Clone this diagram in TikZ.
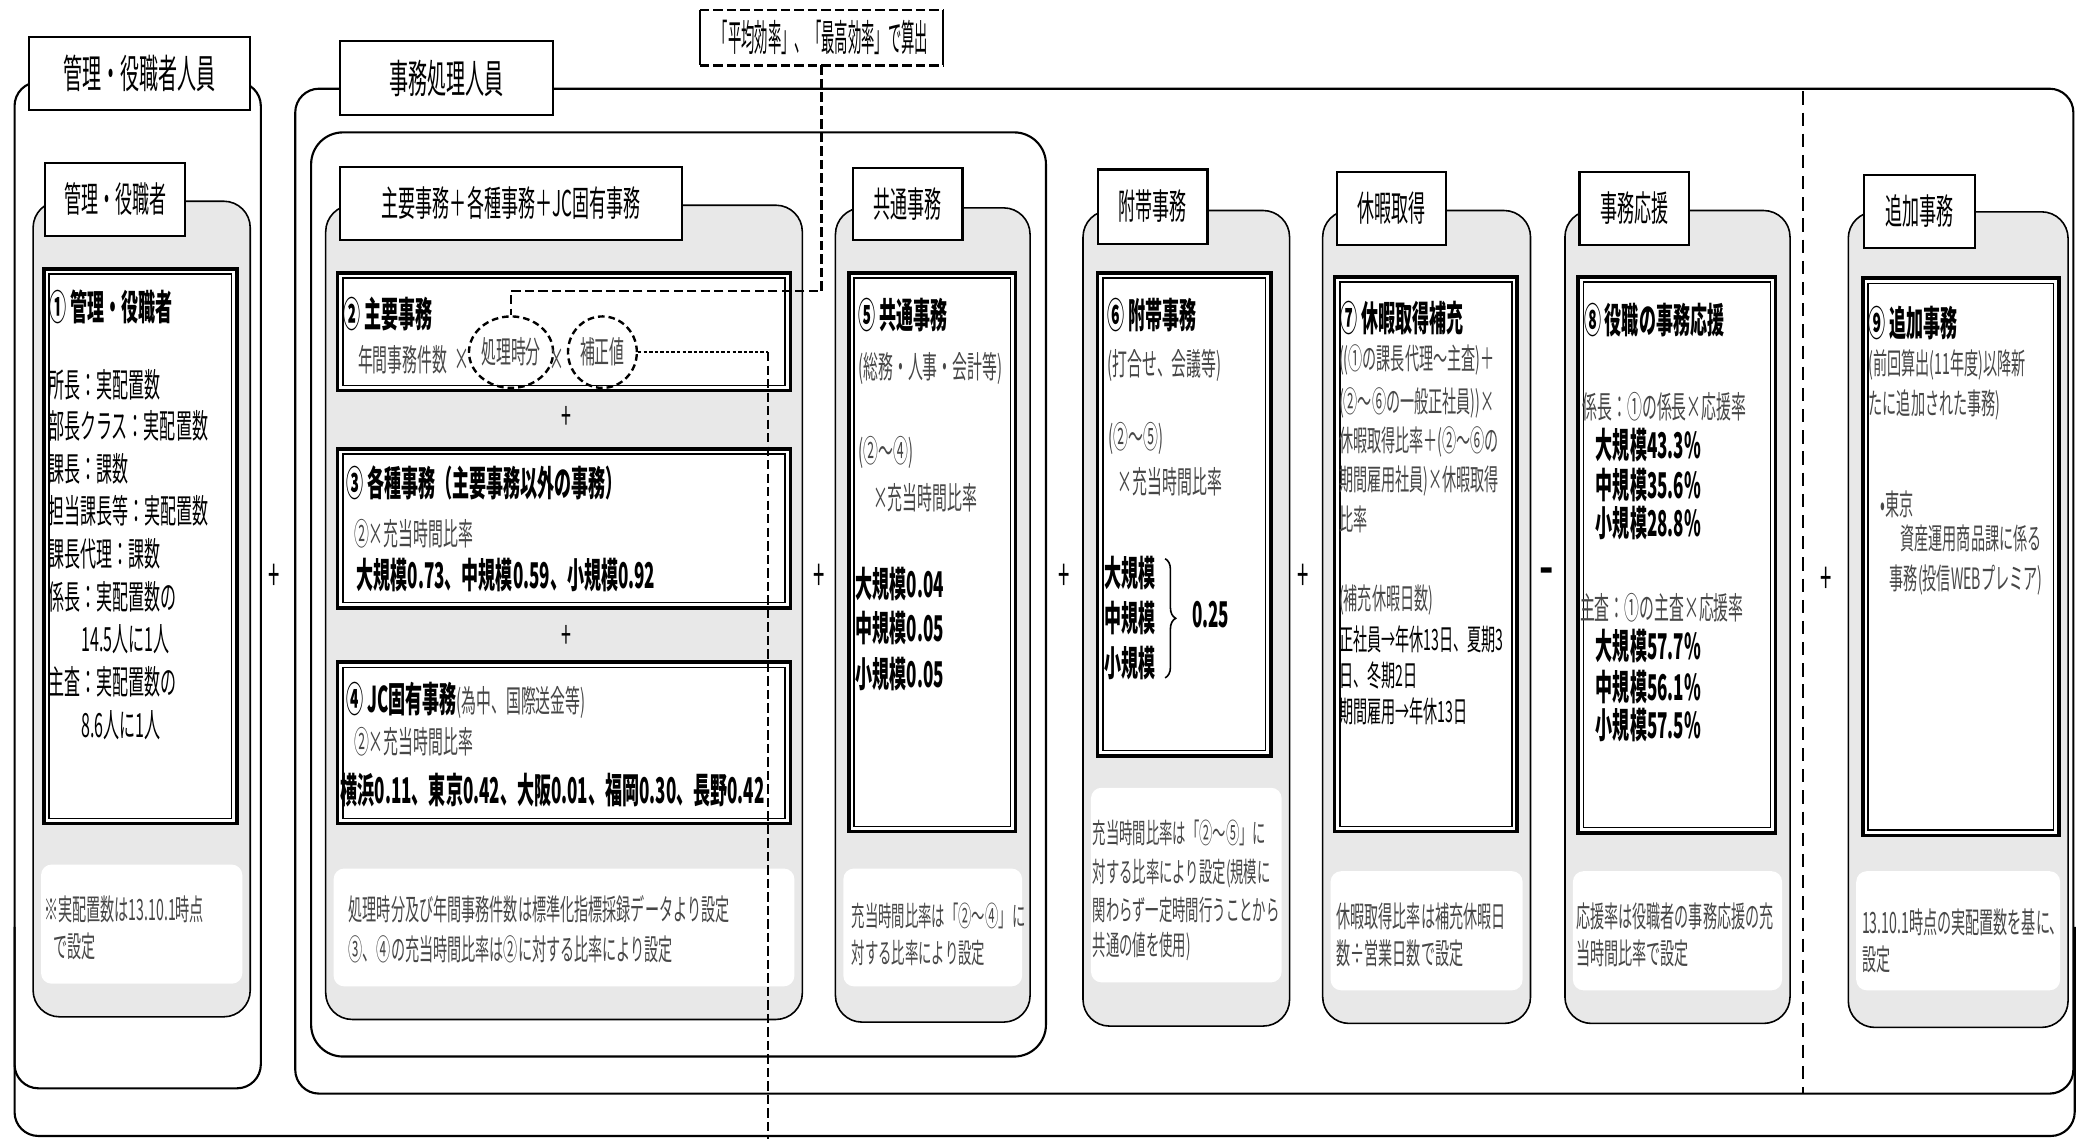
\documentclass[tikz,border=0pt]{standalone}
\usepackage{fontspec}
\setmainfont{Noto Sans CJK JP}[FakeStretch=0.48]
\newfontfamily\jpc{Noto Sans CJK JP}[FakeStretch=0.36]
\usetikzlibrary{shapes.geometric,decorations.pathreplacing}
\tikzset{
 grp/.style={draw, line width=0.8pt, rounded corners=9pt},
 stip/.style={draw, fill=black!9, line width=0.6pt, rounded corners=10pt},
 notearea/.style={fill=white, rounded corners=4pt},
 boxo/.style={draw, fill=white, line width=1.4pt},
 boxi/.style={draw, line width=0.5pt},
 ttl/.style={draw, fill=white, line width=0.8pt, inner sep=0, font=\fontsize{13.4}{15}\selectfont},
 gttl/.style={ttl, font=\fontsize{15}{17}\selectfont},
 tx/.style={anchor=west, inner sep=0},
 hdr/.style={tx, font=\bfseries\fontsize{13.4}{15}\selectfont},
 bod/.style={tx, font=\fontsize{12.6}{14}\selectfont},
 val/.style={tx, font=\bfseries\fontsize{13.4}{15}\selectfont},
 frm/.style={tx, font=\fontsize{11.7}{13}\selectfont, text=black!72},
 sml/.style={tx, font=\fontsize{11.1}{13}\selectfont, text=black!72},
 smk/.style={tx, font=\fontsize{11.1}{13}\selectfont},
 note/.style={tx, font=\fontsize{11.1}{13}\selectfont, text=black!72},
 notes/.style={tx, font=\fontsize{10.5}{12}\selectfont, text=black!72},
 op/.style={inner sep=0, font=\fontsize{16}{16}\selectfont},
 dsh/.style={line width=0.9pt, dash pattern=on 3.5pt off 1.6pt},
 dotl/.style={line width=0.9pt, dash pattern=on 1.3pt off 0.8pt},
 divl/.style={line width=0.6pt, dash pattern=on 5pt off 3pt},
 circd/.style={ellipse, draw, line width=0.9pt, dash pattern=on 2.5pt off 1.5pt, inner sep=0, font=\fontsize{11.7}{13}\selectfont, text=black!72},
}
\newcommand\dframe[4]{\draw[boxo] (#1,#2) rectangle (#3,#4); \draw[boxi] ({#1+4},{#2+4}) rectangle ({#3-4},{#4-4});}
\begin{document}
\begin{tikzpicture}[x=0.5pt,y=-0.5pt]
\fill[white] (0,0) rectangle (1568,860);
\useasboundingbox (0,0) rectangle (1568,860);

% outer groups
\draw[grp] (11,700) -- (11,858) -- (1567,858) -- (1567,700);
\draw[grp] (11,62) rectangle (197,822);
\draw[grp] (223,67) rectangle (1566,826);
\draw[grp, rounded corners=12pt] (235,100) rectangle (790,798);

% stippled boxes
\draw[stip] (25,152) rectangle (189,768);
\draw[stip] (246,155) rectangle (606,770);
\draw[stip] (631,157) rectangle (778,772);
\draw[stip] (818,159) rectangle (974,775);
\draw[stip] (999,159) rectangle (1156,773);
\draw[stip] (1182,159) rectangle (1352,773);
\draw[stip] (1396,160) rectangle (1562,776);

% note areas
\fill[notearea] (31,653) rectangle (183,743);
\fill[notearea] (252,656) rectangle (600,745);
\fill[notearea] (637,656) rectangle (772,745);
\fill[notearea] (824,595) rectangle (968,742);
\fill[notearea] (1005,658) rectangle (1150,748);
\fill[notearea] (1188,658) rectangle (1346,748);
\fill[notearea] (1402,658) rectangle (1556,748);

% framed boxes
\dframe{33}{203}{179}{622}
\dframe{255}{206}{597}{295}
\dframe{255}{339}{597}{459}
\dframe{255}{500}{597}{622}
\dframe{641}{206}{767}{628}
\dframe{829}{206}{960}{571}
\dframe{1008}{209}{1146}{628}
\dframe{1192}{209}{1341}{629}
\dframe{1407}{210}{1555}{631}

% title boxes
\node[gttl, minimum width=83.5pt, minimum height=27.5pt] (gA) at (105.5,55.5) {管理・役職者人員};
\node[gttl, minimum width=80.5pt, minimum height=28pt] (gB) at (337.5,59) {事務処理人員};
\node[ttl, minimum width=53pt, minimum height=27.5pt] (sA) at (87,150.5) {管理・役職者};
\node[ttl, minimum width=129pt, minimum height=27.5pt] (sB) at (386,153.5) {主要事務＋各種事務＋JC固有事務};
\node[ttl, minimum width=41.5pt, minimum height=27pt] (sC) at (685.5,154) {共通事務};
\node[ttl, minimum width=41.5pt, minimum height=28pt] (sD) at (870.5,156) {附帯事務};
\node[ttl, minimum width=41pt, minimum height=27.5pt] (sE) at (1051,157.5) {休暇取得};
\node[ttl, minimum width=41.5pt, minimum height=27.5pt] (sF) at (1234.5,157.5) {事務応援};
\node[ttl, minimum width=42pt, minimum height=27.5pt] (sG) at (1450,159.5) {追加事務};

% (1)
\node[hdr] (h1) at (37,232) {① 管理・役職者};
\node[bod] (l11) at (36,291) {所長：実配置数};
\node[bod] (l12) at (36,322) {部長クラス：実配置数};
\node[bod] (l13) at (36,354) {課長：課数};
\node[bod] (l14) at (36,386) {担当課長等：実配置数};
\node[bod] (l15) at (36,418) {課長代理：課数};
\node[bod] (l16) at (36,451) {係長：実配置数の};
\node[bod] (l17) at (61,483) {14.5人に1人};
\node[bod] (l18) at (36,515) {主査：実配置数の};
\node[bod] (l19) at (61,548) {8.6人に1人};
\node[note] (n1a) at (33,687) {※実配置数は13.10.1時点};
\node[note] (n1b) at (40,715) {で設定};

% (2)
\node[hdr] (h2) at (259,237) {② 主要事務};
\node[frm] (l21) at (270,272) {年間事務件数};
\node[frm, anchor=center] (x21) at (349,272) {×};
\node[circd, minimum width=30pt, minimum height=27pt] (c1) at (386,266) {処理時分};
\node[frm, anchor=center] (x22) at (421,272) {×};
\node[circd, minimum width=26pt, minimum height=27pt] (c2) at (455,266) {補正値};
\node[op, font=\fontsize{14}{14}\selectfont] (p1) at (428,316) {+};

% (3)
\node[hdr] (h3) at (261,365) {③ 各種事務（主要事務以外の事務）};
\node[frm] (l31) at (267,403) {②×充当時間比率};
\node[val] (l32) at (269,434) {大規模0.73、中規模0.59、小規模0.92};
\node[op, font=\fontsize{14}{14}\selectfont] (p2) at (428,481) {+};

% (4)
\node[hdr] (h4) at (261,529) {④ JC固有事務{\mdseries\fontsize{11.7}{13}\selectfont\color{black!72}(為中、国際送金等)}};
\node[frm] (l41) at (267,560) {②×充当時間比率};
\node[val] (l42) at (257,597) {横浜0.11、東京0.42、大阪0.01、福岡0.30、長野0.42};
\node[note] (n2a) at (263,687) {処理時分及び年間事務件数は標準化指標採録データより設定};
\node[note] (n2b) at (263,717) {③、④の充当時間比率は②に対する比率により設定};

% (5)
\node[hdr] (h5) at (648,238) {⑤ 共通事務};
\node[frm] (l51) at (648,278) {(総務・人事・会計等)};
\node[frm] (l52) at (648,342) {(②～④)};
\node[frm] (l53) at (659,376) {×充当時間比率};
\node[val] (l54) at (646,441) {大規模0.04};
\node[val] (l55) at (646,474) {中規模0.05};
\node[val] (l56) at (646,509) {小規模0.05};
\node[notes] (n5a) at (643,692) {充当時間比率は「②～④」に};
\node[notes] (n5b) at (643,720) {対する比率により設定};

% (6)
\node[hdr] (h6) at (836,238) {⑥ 附帯事務};
\node[frm] (l61) at (836,276) {(打合せ、会議等)};
\node[frm] (l62) at (837,331) {(②～⑤)};
\node[frm] (l63) at (844,364) {×充当時間比率};
\node[val] (l64) at (834,433) {大規模};
\node[val] (l65) at (834,467) {中規模};
\node[val] (l66) at (834,501) {小規模};
\coordinate (br1) at (880,422);
\coordinate (br2) at (880,512);
\draw[decorate, decoration={brace, amplitude=4pt}, line width=0.6pt] (br1) -- (br2);
\node[val] (l67) at (900,464) {0.25};
\node[notes] (n6a) at (825,629) {充当時間比率は「②～⑤」に};
\node[notes] (n6b) at (825,660) {対する比率により設定(規模に};
\node[notes] (n6c) at (825,687) {関わらず一定時間行うことから};
\node[notes] (n6d) at (825,715) {共通の値を使用)};

% (7)
\node[hdr] (h7) at (1012,240) {⑦ 休暇取得補充};
\node[sml] (l71) at (1011,272) {((①の課長代理～主査)＋};
\node[sml] (l72) at (1011,304) {(②～⑥の一般正社員))×};
\node[sml] (l73) at (1011,334) {休暇取得比率＋(②～⑥の};
\node[sml] (l74) at (1011,363) {期間雇用社員)×休暇取得};
\node[sml] (l75) at (1011,392) {比率};
\node[sml] (l76) at (1011,453) {(補充休暇日数)};
\node[smk] (l77) at (1011,483) {正社員→年休13日、夏期3};
\node[smk] (l78) at (1011,510) {日、冬期2日};
\node[smk] (l79) at (1011,537) {期間雇用→年休13日};
\node[note] (n7a) at (1009,692) {休暇取得比率は補充休暇日};
\node[note] (n7b) at (1009,720) {数÷営業日数で設定};

% (8)
\node[hdr] (h8) at (1196,242) {⑧ 役職の事務応援};
\node[frm] (l81) at (1195,307) {係長：①の係長×応援率};
\node[val] (l82) at (1205,336) {大規模43.3\%};
\node[val] (l83) at (1205,366) {中規模35.6\%};
\node[val] (l84) at (1205,395) {小規模28.8\%};
\node[frm] (l85) at (1193,459) {主査：①の主査×応援率};
\node[val] (l86) at (1205,488) {大規模57.7\%};
\node[val] (l87) at (1205,519) {中規模56.1\%};
\node[val] (l88) at (1205,548) {小規模57.5\%};
\node[note] (n8a) at (1190,692) {応援率は役職者の事務応援の充};
\node[note] (n8b) at (1190,720) {当時間比率で設定};

% (9)
\node[hdr] (h9) at (1411,244) {⑨ 追加事務};
\node[sml] (l91) at (1411,276) {(前回算出(11年度)以降新};
\node[sml] (l92) at (1411,306) {たに追加された事務)};
\node[sml] (l93) at (1420,381) {•東京};
\node[sml] (l94) at (1435,407) {資産運用商品課に係る};
\node[sml] (l95) at (1427,438) {事務(投信WEBプレミア)};
\node[note] (n9a) at (1406,697) {13.10.1時点の実配置数を基に、};
\node[note] (n9b) at (1406,725) {設定};

% operators
\node[op] (o1) at (207,436) {+};
\node[op] (o2) at (619,436) {+};
\node[op] (o3) at (804,436) {+};
\node[op] (o4) at (984,436) {+};
\node[op, font=\bfseries\fontsize{16}{16}\selectfont] (o5) at (1168,436) {−};
\node[op] (o6) at (1379,438) {+};

% dashed annotation box and connectors
\node[inner sep=0, minimum width=91.5pt, minimum height=20.5pt, font=\jpc\fontsize{14}{15}\selectfont] (avg) at (620.5,28.5) {「平均効率」、「最高効率」で算出};
\draw[dsh] (avg.north west) -- (avg.north east);
\draw[dsh] (avg.south west) -- (avg.south east);
\draw[line width=0.9pt] (avg.north west) -- (avg.south west);
\draw[line width=0.9pt] (avg.north east) -- (avg.south east);
\coordinate (k1) at (620.5,220);
\coordinate (k2) at (386,220);
\draw[dsh] (avg.south) -- (k1) -- (k2) -- (c1.north);
\coordinate (k3) at (580,266);
\coordinate (k4) at (580,860);
\draw[dotl] (c2.east) -- (k3);
\draw[dsh] (k3) -- (k4);
\coordinate (d1) at (1362,69);
\coordinate (d2) at (1362,826);
\draw[divl] (d1) -- (d2);
\end{tikzpicture}
\end{document}
